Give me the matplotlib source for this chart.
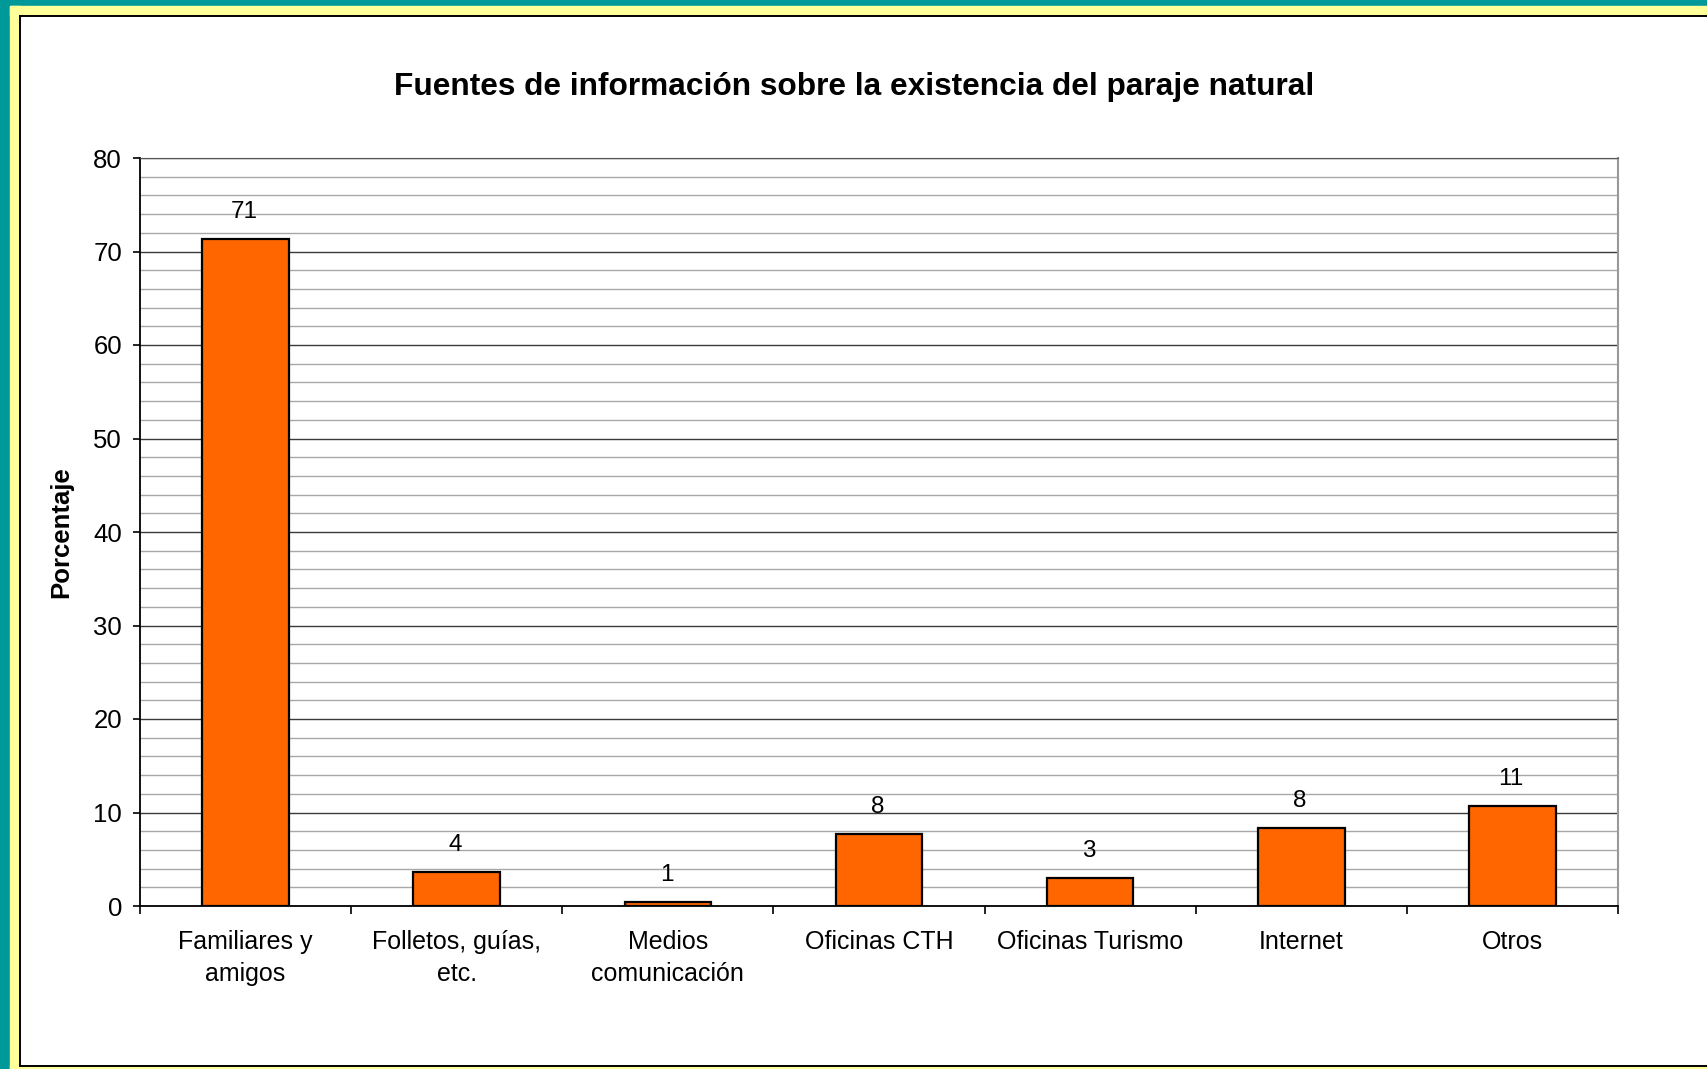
import numpy as np
import matplotlib.pyplot as plt
from matplotlib.patches import Rectangle
from matplotlib.lines import Line2D
from matplotlib.ticker import MultipleLocator, FixedLocator

plt.rcParams['font.family'] = ['Liberation Sans', 'DejaVu Sans']

categories = ['Familiares y\namigos', 'Folletos, guías,\netc.', 'Medios\ncomunicación',
              'Oficinas CTH', 'Oficinas Turismo', 'Internet', 'Otros']
values = [71.3, 3.6, 0.45, 7.7, 3.0, 8.3, 10.7]
value_labels = ['71', '4', '1', '8', '3', '8', '11']

W, H = 1708, 1069
fig = plt.figure(figsize=(W / 100, H / 100), dpi=100)
fig.patch.set_facecolor('white')

# frame decorations (teal / yellow / black line)
def px_rect(x0, y0, x1, y1, color):
    fig.patches.append(Rectangle((x0 / W, 1 - y1 / H), (x1 - x0) / W, (y1 - y0) / H,
                                 transform=fig.transFigure, color=color, zorder=-10))

px_rect(0, 0, 10, H, '#009999')
px_rect(0, 0, W, 6, '#009999')
px_rect(10, 6, 20, H, '#FFFF99')
px_rect(10, 6, W, 15, '#FFFF99')
px_rect(10, 1066, W, H, '#FFFF99')
fig.add_artist(Line2D([20.5 / W, 20.5 / W], [1 - 15.5 / H, 1 - 1065.5 / H], color='black', lw=1.4))
fig.add_artist(Line2D([20.5 / W, 1], [1 - 15.5 / H, 1 - 15.5 / H], color='black', lw=1.4))
fig.add_artist(Line2D([20.5 / W, 1], [1 - 1065.5 / H, 1 - 1065.5 / H], color='black', lw=1.4))

ax = fig.add_axes([140 / W, 1 - 906 / H, 1478 / W, 748 / H])
x = np.arange(len(categories))
bars = ax.bar(x, values, width=0.41, color='#FF6600', edgecolor='black', linewidth=1.6, zorder=3)

for xi, v, lab in zip(x, values, value_labels):
    ax.annotate(lab, (xi, v), xytext=(-1, 19.5), textcoords='offset points',
                ha='center', va='center', fontsize=17.5)

ax.set_xlim(-0.5, len(categories) - 0.5)
ax.set_ylim(0, 80)
ax.yaxis.set_major_locator(MultipleLocator(10))
ax.yaxis.set_minor_locator(MultipleLocator(2))
ax.grid(which='minor', axis='y', color='#a8a8a8', lw=1.0, zorder=0)
ax.grid(which='major', axis='y', color='#3a3a3a', lw=1.0, zorder=1)

ax.set_xticks(x)
ax.set_xticklabels(categories, fontsize=18, linespacing=1.45)
ax.xaxis.set_minor_locator(FixedLocator(np.arange(-0.5, len(categories), 1.0)))
ax.tick_params(axis='x', which='major', length=0, pad=17)
ax.tick_params(axis='x', which='minor', length=6, width=1.2, color='black')
ax.tick_params(axis='y', which='major', length=5, width=1.2, labelsize=18.5, pad=8)
ax.tick_params(axis='y', which='minor', length=0)

for s in ['left', 'bottom']:
    ax.spines[s].set_color('black')
    ax.spines[s].set_linewidth(1.3)
ax.spines['top'].set_color('#555555')
ax.spines['right'].set_color('#999999')
ax.spines['right'].set_linewidth(1.5)

ax.set_ylabel('Porcentaje', fontsize=18.5, fontweight='bold')
ax.yaxis.set_label_coords(-0.045, 0.5)

fig.text(0.5, 1 - 87 / H, 'Fuentes de información sobre la existencia del paraje natural',
         ha='center', va='center', fontsize=22.8, fontweight='bold')

fig.savefig('out.png', dpi=100)
